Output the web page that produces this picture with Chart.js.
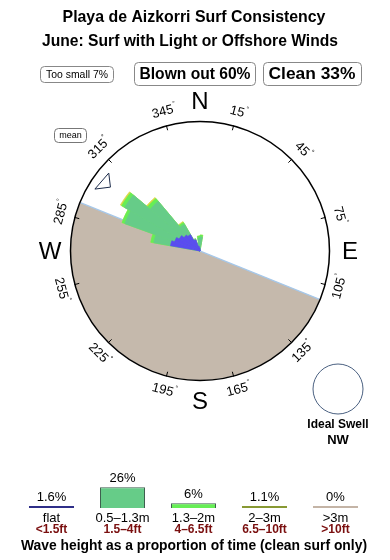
<!DOCTYPE html>
<html>
<head>
<meta charset="utf-8">
<style>
html,body{margin:0;padding:0;background:#fff;}
#wrap{position:relative;width:390px;height:560px;overflow:hidden;}
canvas{position:absolute;left:0;top:0;}
</style>
<script src="https://cdn.jsdelivr.net/npm/chart.js@4.4.0/dist/chart.umd.min.js"></script>
</head>
<body>
<div id="wrap">
<canvas id="rose" width="390" height="560"></canvas>
<canvas id="bars" width="390" height="560"></canvas>
</div>
<script>
// ---------- data ----------
const titleLine1 = 'Playa de Aizkorri Surf Consistency';
const titleLine2 = 'June: Surf with Light or Offshore Winds';
const summaryLabels = ['Too small 7%', 'Blown out 60%', 'Clean 33%'];

// swell direction bins (start bearing, 10° wide)
const dirBins   = [280, 290, 300, 310, 320, 330, 340, 350, 0];
const flatVals  = [30, 27, 24, 21, 19, 12, 5, 3, 0];     // flat
const smallVals = [17, 53, 63, 44, 12, 1, 3, 10, 14];    // 0.5-1.3m
const midVals   = [3, 3, 3.5, 3.5, 2, 0, 0, 2, 2];       // 1.3-2m
const bigVals   = [0, 0, 1.5, 1.5, 1, 0, 0, 0, 0];       // 2-3m
const roseMax = 129;

// land sector (bearing 112° to 292° through south)
const landAngles = [112, 180, 68];
const landVals = [0, roseMax, 0];

const compassLetters = ['N', 'E', 'S', 'W'];
const compassBearings = [0, 90, 180, 270];
const degreeTicks = [15, 45, 75, 105, 135, 165, 195, 225, 255, 285, 315, 345];
const meanBearing = 305.5;
const idealSwell = 'NW';

const heightClasses = ['flat', '0.5–1.3m', '1.3–2m', '2–3m', '>3m'];
const heightFeet = ['<1.5ft', '1.5–4ft', '4–6.5ft', '6.5–10ft', '>10ft'];
const heightShare = [1.6, 26, 6, 1.1, 0];
const shareLabels = ['1.6%', '26%', '6%', '1.1%', '0%'];
const footerText = 'Wave height as a proportion of time (clean surf only)';

// ---------- build ring arrays ----------
function ring(vals) {
  const a = new Array(36).fill(0);
  dirBins.forEach((d, i) => { a[d / 10] = vals[i]; });
  return a;
}
const cFlat = ring(flatVals);
const cSmall = ring(smallVals).map((v, i) => v + cFlat[i]);
const cMid = ring(midVals).map((v, i) => v + cSmall[i]);
const cBig = ring(bigVals).map((v, i) => v + cMid[i]);
const ringLabels = new Array(36).fill(0).map((_, i) => (i * 10) + '°');

const FONT = '"Liberation Sans", Arial, Helvetica, sans-serif';
const C_FLAT = '#5A4CF0', C_SMALL = '#66CC88', C_MID = '#66EE55', C_BIG = '#D8D844', C_LAND = '#C5B9AC';

function pt(cx, cy, rad, bearing) {
  const a = (bearing - 90) * Math.PI / 180;
  return [cx + rad * Math.cos(a), cy + rad * Math.sin(a)];
}
function fitText(ctx, text, cx, cy, width, weight, color) {
  ctx.font = weight + ' 100px ' + FONT;
  const w = ctx.measureText(text).width;
  const size = 100 * width / w;
  ctx.font = weight + ' ' + size.toFixed(2) + 'px ' + FONT;
  ctx.fillStyle = color;
  ctx.textAlign = 'center';
  ctx.textBaseline = 'middle';
  ctx.fillText(text, cx, cy);
}
function roundBox(ctx, x, y, w, h, r) {
  ctx.beginPath();
  ctx.moveTo(x + r, y);
  ctx.lineTo(x + w - r, y); ctx.arcTo(x + w, y, x + w, y + r, r);
  ctx.lineTo(x + w, y + h - r); ctx.arcTo(x + w, y + h, x + w - r, y + h, r);
  ctx.lineTo(x + r, y + h); ctx.arcTo(x, y + h, x, y + h - r, r);
  ctx.lineTo(x, y + r); ctx.arcTo(x, y, x + r, y, r);
  ctx.closePath();
  ctx.stroke();
}

const LAND_INDEX = 4;
const compassPlugin = {
  id: 'compass',
  afterDatasetDraw(chart, args) {
    if (args.index !== LAND_INDEX) return;
    const s = chart.scales.r, ctx = chart.ctx;
    const R = s.drawingArea;
    const a = pt(s.xCenter, s.yCenter, R, 292);
    const b = pt(s.xCenter, s.yCenter, R, 112);
    ctx.save();
    ctx.strokeStyle = '#A6C8EA';
    ctx.lineWidth = 1.2;
    ctx.beginPath(); ctx.moveTo(a[0], a[1]); ctx.lineTo(b[0], b[1]); ctx.stroke();
    ctx.restore();
  },
  afterDraw(chart) {
    const s = chart.scales.r, ctx = chart.ctx;
    const cx = s.xCenter, cy = s.yCenter, R = s.drawingArea;
    ctx.save();
    // ring
    ctx.strokeStyle = '#000';
    ctx.lineWidth = 1.5;
    ctx.beginPath(); ctx.arc(cx, cy, R + 0.5, 0, Math.PI * 2); ctx.stroke();
    // ticks + degree labels
    ctx.lineWidth = 1;
    degreeTicks.forEach(b => {
      const p1 = pt(cx, cy, R - 4, b), p2 = pt(cx, cy, R + 1, b);
      ctx.beginPath(); ctx.moveTo(p1[0], p1[1]); ctx.lineTo(p2[0], p2[1]); ctx.stroke();
      const p = pt(cx, cy, R + 15, b);
      const rot = (b > 90 && b < 270) ? b - 180 : b;
      ctx.save();
      ctx.translate(p[0], p[1]);
      ctx.rotate(rot * Math.PI / 180);
      ctx.font = '13px ' + FONT;
      ctx.fillStyle = '#000';
      ctx.textAlign = 'center'; ctx.textBaseline = 'middle';
      const num = String(b);
      const w = ctx.measureText(num).width;
      ctx.fillText(num, 0, 0);
      ctx.font = '7px ' + FONT;
      ctx.textAlign = 'left';
      ctx.fillText('°', w / 2 + 0.5, -5);
      ctx.restore();
    });
    // compass letters
    ctx.font = '24px ' + FONT;
    ctx.fillStyle = '#000';
    ctx.textAlign = 'center'; ctx.textBaseline = 'middle';
    compassLetters.forEach((L, i) => {
      const p = pt(cx, cy, R + 21, compassBearings[i]);
      ctx.fillText(L, p[0], p[1] + 1);
    });
    // mean marker
    const m1 = pt(cx, cy, 122, meanBearing - 5), m2 = pt(cx, cy, 120, meanBearing + 5), m3 = pt(cx, cy, 110, meanBearing);
    ctx.strokeStyle = '#1C2B4A';
    ctx.lineWidth = 1;
    ctx.beginPath(); ctx.moveTo(m1[0], m1[1]); ctx.lineTo(m3[0], m3[1]); ctx.lineTo(m2[0], m2[1]); ctx.closePath(); ctx.stroke();
    // mean box
    ctx.strokeStyle = '#777';
    roundBox(ctx, 54.5, 128.5, 32, 14, 4);
    ctx.font = '9px ' + FONT; ctx.fillStyle = '#000';
    ctx.fillText('mean', 70.5, 136);
    // titles
    fitText(ctx, titleLine1, 194, 18, 263, 'bold', '#000');
    fitText(ctx, titleLine2, 190, 42, 296, 'bold', '#000');
    // summary boxes
    ctx.strokeStyle = '#888'; ctx.lineWidth = 1;
    roundBox(ctx, 40.5, 66.5, 73, 16, 4);
    roundBox(ctx, 134.5, 62.5, 121, 23, 4);
    roundBox(ctx, 263.5, 62.5, 98, 23, 4);
    fitText(ctx, summaryLabels[0], 77, 75, 62, 'normal', '#000');
    fitText(ctx, summaryLabels[1], 195, 74.5, 111, 'bold', '#000');
    fitText(ctx, summaryLabels[2], 312, 74.5, 87, 'bold', '#000');
    // ideal swell
    ctx.strokeStyle = '#4A6080'; ctx.lineWidth = 1;
    ctx.beginPath(); ctx.arc(338, 389, 25, 0, Math.PI * 2); ctx.stroke();
    ctx.fillStyle = '#000'; ctx.textAlign = 'center'; ctx.textBaseline = 'middle';
    ctx.font = 'bold 12px ' + FONT;
    ctx.fillText('Ideal Swell', 338, 425);
    ctx.font = 'bold 13px ' + FONT;
    ctx.fillText(idealSwell, 338, 440);
    ctx.restore();
  }
};

function bw(ctx) { return ctx.raw > 0 ? 0.6 : 0; }

new Chart(document.getElementById('rose'), {
  type: 'polarArea',
  data: {
    labels: ringLabels,
    datasets: [
      { data: cFlat, backgroundColor: C_FLAT, borderColor: C_FLAT, borderWidth: bw },
      { data: cSmall, backgroundColor: C_SMALL, borderColor: C_SMALL, borderWidth: bw },
      { data: cMid, backgroundColor: C_MID, borderColor: C_MID, borderWidth: bw },
      { data: cBig, backgroundColor: C_BIG, borderColor: C_BIG, borderWidth: bw },
      { data: landVals, backgroundColor: C_LAND, borderWidth: 0, angle: (c) => landAngles[c.dataIndex] }
    ]
  },
  options: {
    responsive: false,
    animation: false,
    devicePixelRatio: 1,
    layout: { padding: { left: 71, right: 61, top: 122, bottom: 180 } },
    scales: {
      r: {
        min: 0, max: roseMax, startAngle: 0,
        ticks: { display: false },
        grid: { display: false },
        angleLines: { display: false },
        pointLabels: { display: false }
      }
    },
    plugins: { legend: { display: false }, tooltip: { enabled: false } }
  },
  plugins: [compassPlugin]
});

const barLabelPlugin = {
  id: 'barLabels',
  afterDatasetsDraw(chart) {
    const ctx = chart.ctx;
    const meta = chart.getDatasetMeta(0);
    ctx.save();
    ctx.textAlign = 'center'; ctx.textBaseline = 'middle';
    meta.data.forEach((bar, i) => {
      const top = Math.min(bar.y, bar.base);
      ctx.font = '13px ' + FONT; ctx.fillStyle = '#000';
      ctx.fillText(shareLabels[i], bar.x, top - 9);
      ctx.fillText(heightClasses[i], bar.x, 518);
      ctx.font = 'bold 12px ' + FONT; ctx.fillStyle = '#7A0F0F';
      ctx.fillText(heightFeet[i], bar.x, 530);
    });
    fitText(ctx, footerText, 194, 546, 346, 'bold', '#000');
    ctx.restore();
  }
};

new Chart(document.getElementById('bars'), {
  type: 'bar',
  data: {
    labels: heightClasses,
    datasets: [{
      data: heightShare,
      backgroundColor: ['#2E2E88', C_SMALL, C_MID, '#889933', '#C4B4A6'],
      borderColor: ['#2E2E88', '#3F5F4F', '#3F5F4F', '#889933', '#C4B4A6'],
      borderWidth: [0, 1, 1, 0, 0],
      minBarLength: 2,
      barPercentage: 0.634,
      categoryPercentage: 1
    }]
  },
  options: {
    responsive: false,
    animation: false,
    devicePixelRatio: 1,
    layout: { padding: { left: 16, right: 19, top: 472, bottom: 52 } },
    scales: { x: { display: false }, y: { display: false, min: 0, max: 45 } },
    plugins: { legend: { display: false }, tooltip: { enabled: false } }
  },
  plugins: [barLabelPlugin]
});
</script>
</body>
</html>
